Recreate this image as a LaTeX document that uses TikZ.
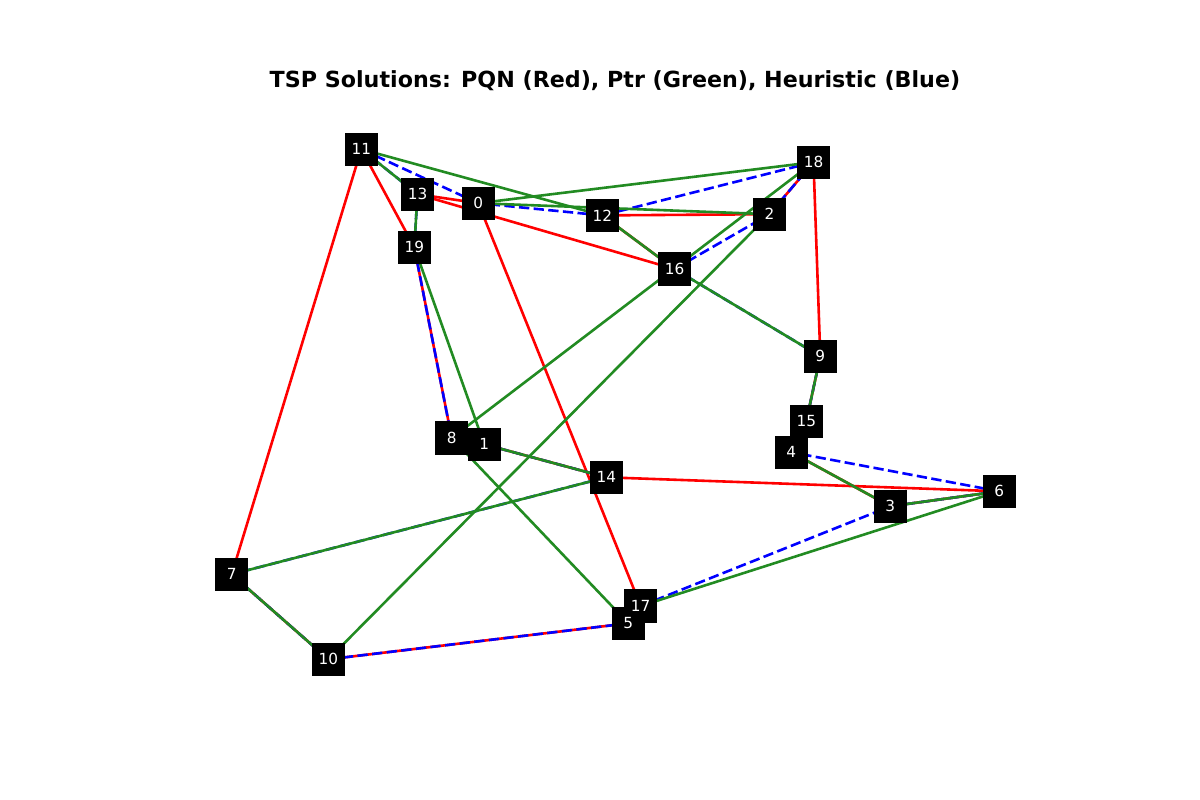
\documentclass[tikz,border=0pt]{standalone}
\usepackage{fontspec}
\setmainfont{DejaVu Sans}
\usetikzlibrary{backgrounds}
\pgfdeclarelayer{boxes}
\pgfsetlayers{background,boxes,main}
\definecolor{pqnred}{RGB}{255,0,0}
\definecolor{ptrgreen}{RGB}{34,139,34}
\definecolor{heublue}{RGB}{0,0,255}
\tikzset{
  city/.style={text=white, minimum width=33pt, minimum height=33pt, inner sep=0pt,
    font=\fontsize{15.3}{15.3}\selectfont},
  citybox/.style={fill=black},
  pqn/.style={draw=pqnred, line width=2.6pt},
  ptr/.style={draw=ptrgreen, line width=2.6pt},
  heu/.style={draw=heublue, line width=2.6pt, dash pattern=on 10.3pt off 4.4pt},
}
\begin{document}
\begin{tikzpicture}[x=1pt,y=-1pt]
\useasboundingbox (0,0) rectangle (1200,800);
\node[font=\fontsize{22.2}{22.2}\selectfont\bfseries] (title) at (615,81) {TSP Solutions: PQN (Red), Ptr (Green), Heuristic (Blue)};
\node[city] (n0) at (478.3,203.2) {0};
\node[city] (n1) at (484.2,444.3) {1};
\node[city] (n2) at (769.5,214.2) {2};
\node[city] (n3) at (890.3,506.3) {3};
\node[city] (n4) at (791.3,452.3) {4};
\node[city] (n5) at (628.3,623.3) {5};
\node[city] (n6) at (999.2,491.3) {6};
\node[city] (n7) at (231.7,574.3) {7};
\node[city] (n8) at (451.7,438) {8};
\node[city] (n9) at (820.3,356.3) {9};
\node[city] (n10) at (328.3,659.3) {10};
\node[city] (n11) at (361.3,149.2) {11};
\node[city] (n12) at (602.4,215.4) {12};
\node[city] (n13) at (417.5,194.2) {13};
\node[city] (n14) at (606.3,477.3) {14};
\node[city] (n15) at (806.3,421.3) {15};
\node[city] (n16) at (674.5,269) {16};
\node[city] (n17) at (640.7,606) {17};
\node[city] (n18) at (813.5,162.2) {18};
\node[city] (n19) at (414.3,247.2) {19};
\begin{pgfonlayer}{boxes}
\foreach \i in {0,...,19}
  \fill[citybox] (n\i.south west) rectangle (n\i.north east);
\end{pgfonlayer}
\begin{pgfonlayer}{background}
% PQN tour (red)
\foreach \a/\b in {11/7,7/10,10/5,5/17,17/0,0/13,13/16,16/12,12/2,2/18,18/9,9/15,15/4,4/3,3/6,6/14,14/1,1/8,8/19,19/11}
  \draw[pqn] (n\a.center) -- (n\b.center);
% Heuristic tour (blue, dashed)
\foreach \a/\b in {11/13,13/19,19/8,8/1,1/14,14/7,7/10,10/5,5/17,17/3,3/6,6/4,4/15,15/9,9/16,16/2,2/18,18/12,12/0,0/11}
  \draw[heu] (n\a.center) -- (n\b.center);
% Ptr tour (green)
\foreach \a/\b in {11/13,13/19,19/1,1/14,14/7,7/10,10/2,2/0,0/18,18/8,8/5,5/17,17/6,6/3,3/4,4/15,15/9,9/16,16/12,12/11}
  \draw[ptr] (n\a.center) -- (n\b.center);
\end{pgfonlayer}
\end{tikzpicture}
\end{document}
